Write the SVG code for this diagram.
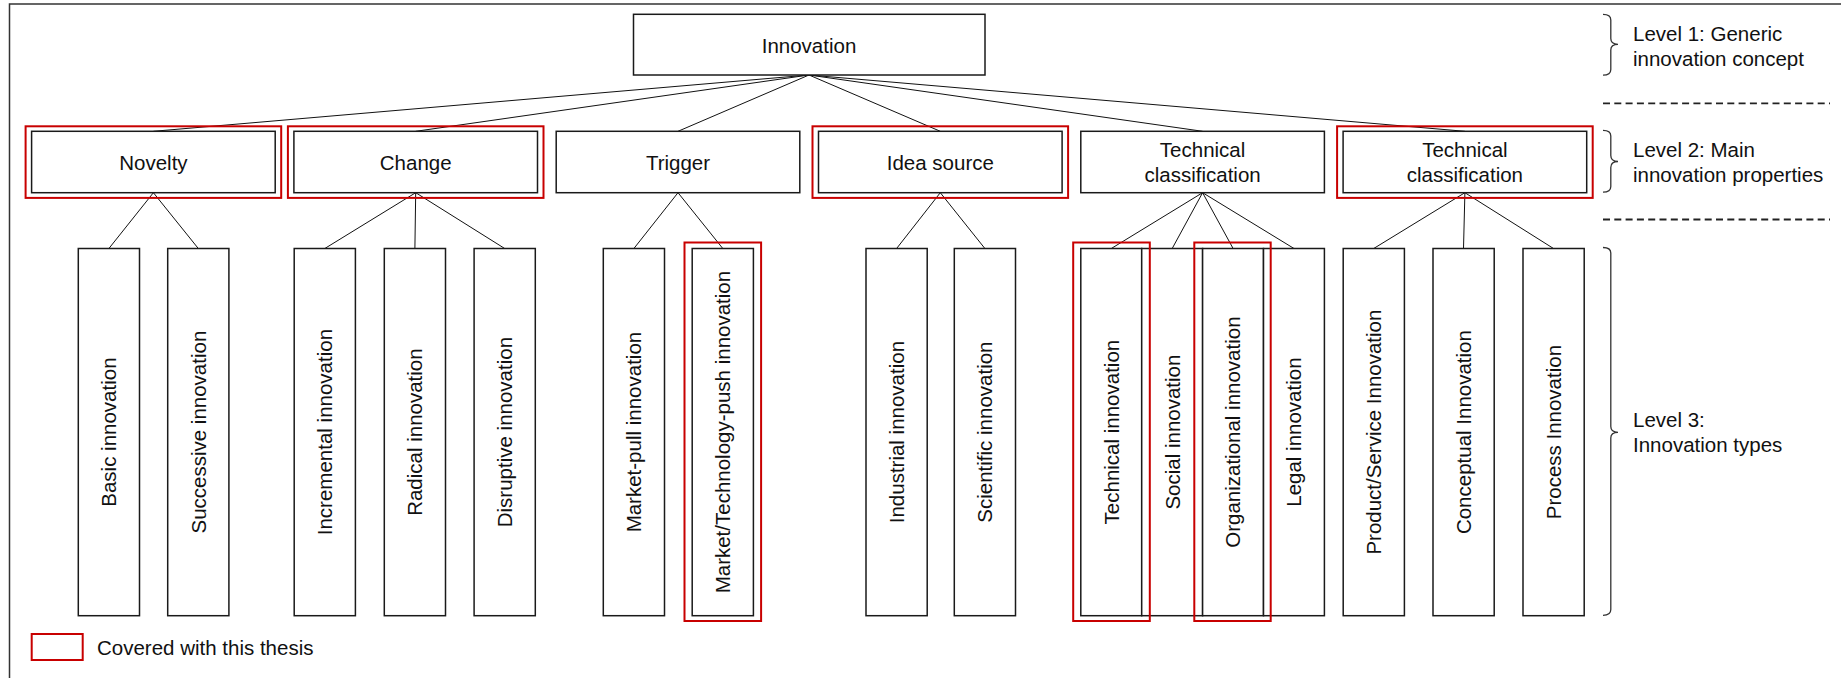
<svg xmlns="http://www.w3.org/2000/svg" width="1841" height="678" viewBox="0 0 1841 678">
  <style>
    .box { fill: #ffffff; stroke: #1a1a1a; stroke-width: 1.5; }
    .hl { fill: none; stroke: #c80000; stroke-width: 2; }
    .conn line { stroke: #111111; stroke-width: 1; }
    .lbl { font-family: "Liberation Sans", Arial, sans-serif; font-size: 20.5px; fill: #111111; }
    .mid { text-anchor: middle; }
    .brace { fill: none; stroke: #333333; stroke-width: 1.3; }
    .sep { stroke: #222222; stroke-width: 1.8; stroke-dasharray: 7 4.3; }
  </style>

  <!-- frame -->
  <path d="M9.5,678 V4 H1841" fill="none" stroke="#333333" stroke-width="1.5"/>

  <!-- connectors -->
  <g id="connectors" class="conn">
    <!-- level 1 to level 2 -->
    <line x1="809" y1="75" x2="153.4" y2="131.3"/>
    <line x1="809" y1="75" x2="415.7" y2="131.3"/>
    <line x1="809" y1="75" x2="678" y2="131.3"/>
    <line x1="809" y1="75" x2="940.3" y2="131.3"/>
    <line x1="809" y1="75" x2="1202.6" y2="131.3"/>
    <line x1="809" y1="75" x2="1464.9" y2="131.3"/>
    <!-- Novelty -->
    <line x1="153.4" y1="192.7" x2="108.9" y2="248.5"/>
    <line x1="153.4" y1="192.7" x2="198.3" y2="248.5"/>
    <!-- Change -->
    <line x1="415.7" y1="192.7" x2="324.8" y2="248.5"/>
    <line x1="415.7" y1="192.7" x2="414.9" y2="248.5"/>
    <line x1="415.7" y1="192.7" x2="504.7" y2="248.5"/>
    <!-- Trigger -->
    <line x1="678" y1="192.7" x2="633.9" y2="248.5"/>
    <line x1="678" y1="192.7" x2="722.8" y2="248.5"/>
    <!-- Idea source -->
    <line x1="940.3" y1="192.7" x2="896.6" y2="248.5"/>
    <line x1="940.3" y1="192.7" x2="984.9" y2="248.5"/>
    <!-- Technical classification (1) -->
    <line x1="1202.6" y1="192.7" x2="1111.3" y2="248.5"/>
    <line x1="1202.6" y1="192.7" x2="1172.2" y2="248.5"/>
    <line x1="1202.6" y1="192.7" x2="1233.1" y2="248.5"/>
    <line x1="1202.6" y1="192.7" x2="1294" y2="248.5"/>
    <!-- Technical classification (2) -->
    <line x1="1464.9" y1="192.7" x2="1373.7" y2="248.5"/>
    <line x1="1464.9" y1="192.7" x2="1463.5" y2="248.5"/>
    <line x1="1464.9" y1="192.7" x2="1553.5" y2="248.5"/>
  </g>

  <!-- level 1 -->
  <g id="n-innovation">
    <rect class="box" x="633.5" y="14.3" width="351.5" height="60.7"/>
    <text class="lbl mid" x="809" y="52.5">Innovation</text>
  </g>

  <!-- level 2 -->
  <g id="n-novelty">
    <rect class="box" x="31.6" y="131.3" width="243.6" height="61.4"/>
    <text class="lbl mid" x="153.4" y="169.5">Novelty</text>
  </g>
  <g id="n-change">
    <rect class="box" x="293.9" y="131.3" width="243.6" height="61.4"/>
    <text class="lbl mid" x="415.7" y="169.5">Change</text>
  </g>
  <g id="n-trigger">
    <rect class="box" x="556.2" y="131.3" width="243.6" height="61.4"/>
    <text class="lbl mid" x="678" y="169.5">Trigger</text>
  </g>
  <g id="n-idea-source">
    <rect class="box" x="818.5" y="131.3" width="243.6" height="61.4"/>
    <text class="lbl mid" x="940.3" y="169.5">Idea source</text>
  </g>
  <g id="n-technical-classification-1">
    <rect class="box" x="1080.8" y="131.3" width="243.6" height="61.4"/>
    <text class="lbl mid" x="1202.6" y="157.3">Technical</text>
    <text class="lbl mid" x="1202.6" y="181.5">classification</text>
  </g>
  <g id="n-technical-classification-2">
    <rect class="box" x="1343.1" y="131.3" width="243.6" height="61.4"/>
    <text class="lbl mid" x="1464.9" y="157.3">Technical</text>
    <text class="lbl mid" x="1464.9" y="181.5">classification</text>
  </g>

  <!-- level 3 -->
  <g id="n-basic">
    <rect class="box" x="78.3" y="248.5" width="61.2" height="367.2"/>
    <text class="lbl mid" transform="translate(116.2,432.1) rotate(-90)">Basic innovation</text>
  </g>
  <g id="n-successive">
    <rect class="box" x="167.7" y="248.5" width="61.2" height="367.2"/>
    <text class="lbl mid" transform="translate(205.6,432.1) rotate(-90)">Successive innovation</text>
  </g>
  <g id="n-incremental">
    <rect class="box" x="294.2" y="248.5" width="61.2" height="367.2"/>
    <text class="lbl mid" transform="translate(332.1,432.1) rotate(-90)">Incremental innovation</text>
  </g>
  <g id="n-radical">
    <rect class="box" x="384.3" y="248.5" width="61.2" height="367.2"/>
    <text class="lbl mid" transform="translate(422.2,432.1) rotate(-90)">Radical innovation</text>
  </g>
  <g id="n-disruptive">
    <rect class="box" x="474.1" y="248.5" width="61.2" height="367.2"/>
    <text class="lbl mid" transform="translate(512,432.1) rotate(-90)">Disruptive innovation</text>
  </g>
  <g id="n-market-pull">
    <rect class="box" x="603.3" y="248.5" width="61.2" height="367.2"/>
    <text class="lbl mid" transform="translate(641.2,432.1) rotate(-90)">Market-pull innovation</text>
  </g>
  <g id="n-market-technology-push">
    <rect class="box" x="692.2" y="248.5" width="61.2" height="367.2"/>
    <text class="lbl mid" transform="translate(730.1,432.1) rotate(-90)">Market/Technology-push innovation</text>
  </g>
  <g id="n-industrial">
    <rect class="box" x="866" y="248.5" width="61.2" height="367.2"/>
    <text class="lbl mid" transform="translate(903.9,432.1) rotate(-90)">Industrial innovation</text>
  </g>
  <g id="n-scientific">
    <rect class="box" x="954.3" y="248.5" width="61.2" height="367.2"/>
    <text class="lbl mid" transform="translate(992.2,432.1) rotate(-90)">Scientific innovation</text>
  </g>
  <g id="n-technical">
    <rect class="box" x="1080.8" y="248.5" width="60.9" height="367.2"/>
    <text class="lbl mid" transform="translate(1118.6,432.1) rotate(-90)">Technical innovation</text>
  </g>
  <g id="n-social">
    <rect class="box" x="1141.7" y="248.5" width="60.9" height="367.2"/>
    <text class="lbl mid" transform="translate(1179.5,432.1) rotate(-90)">Social innovation</text>
  </g>
  <g id="n-organizational">
    <rect class="box" x="1202.6" y="248.5" width="60.9" height="367.2"/>
    <text class="lbl mid" transform="translate(1240.4,432.1) rotate(-90)">Organizational innovation</text>
  </g>
  <g id="n-legal">
    <rect class="box" x="1263.5" y="248.5" width="60.9" height="367.2"/>
    <text class="lbl mid" transform="translate(1301.3,432.1) rotate(-90)">Legal innovation</text>
  </g>
  <g id="n-product-service">
    <rect class="box" x="1343.2" y="248.5" width="61.2" height="367.2"/>
    <text class="lbl mid" transform="translate(1381.1,432.1) rotate(-90)">Product/Service Innovation</text>
  </g>
  <g id="n-conceptual">
    <rect class="box" x="1433" y="248.5" width="61.2" height="367.2"/>
    <text class="lbl mid" transform="translate(1470.9,432.1) rotate(-90)">Conceptual Innovation</text>
  </g>
  <g id="n-process">
    <rect class="box" x="1523" y="248.5" width="61.2" height="367.2"/>
    <text class="lbl mid" transform="translate(1560.9,432.1) rotate(-90)">Process Innovation</text>
  </g>

  <!-- highlight frames for elements covered -->
  <g id="highlights">
    <rect class="hl" x="25.6" y="126.3" width="255.6" height="71.6"/>
    <rect class="hl" x="287.9" y="126.3" width="255.6" height="71.6"/>
    <rect class="hl" x="812.5" y="126.3" width="255.6" height="71.6"/>
    <rect class="hl" x="1337.1" y="126.3" width="255.6" height="71.6"/>
    <rect class="hl" x="684.5" y="242.5" width="76.6" height="378.5"/>
    <rect class="hl" x="1073.2" y="242.5" width="76.6" height="378.5"/>
    <rect class="hl" x="1194.3" y="242.5" width="76.4" height="378.5"/>
  </g>

  <!-- level annotations -->
  <g id="levels">
    <path class="brace" d="M1603,14.3 Q1610.8,14.3 1610.8,20 V38.5 Q1610.8,44.3 1618,44.3 Q1610.8,44.3 1610.8,50 V69.5 Q1610.8,75.2 1603,75.2"/>
    <text class="lbl" x="1633" y="40.7">Level 1: Generic</text>
    <text class="lbl" x="1633" y="66">innovation concept</text>

    <line class="sep" x1="1603" y1="103.3" x2="1830" y2="103.3"/>

    <path class="brace" d="M1603,130.3 Q1610.8,130.3 1610.8,136 V155.5 Q1610.8,161.5 1618,161.5 Q1610.8,161.5 1610.8,167.5 V186.5 Q1610.8,192.2 1603,192.2"/>
    <text class="lbl" x="1633" y="156.7">Level 2: Main</text>
    <text class="lbl" x="1633" y="181.7">innovation properties</text>

    <line class="sep" x1="1603" y1="219.5" x2="1830" y2="219.5"/>

    <path class="brace" d="M1603,247.5 Q1610.8,247.5 1610.8,253 V426.5 Q1610.8,432.3 1618,432.3 Q1610.8,432.3 1610.8,438 V609.5 Q1610.8,615.3 1603,615.3"/>
    <text class="lbl" x="1633" y="426.7">Level 3:</text>
    <text class="lbl" x="1633" y="451.7">Innovation types</text>
  </g>

  <!-- legend -->
  <g id="legend">
    <rect class="hl" x="31.7" y="634" width="51" height="26"/>
    <text class="lbl" x="97" y="654.5">Covered with this thesis</text>
  </g>
</svg>
